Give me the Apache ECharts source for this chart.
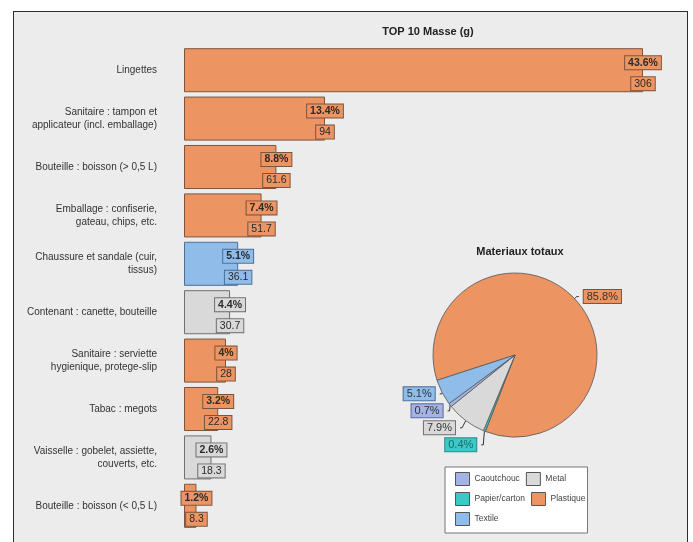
<!DOCTYPE html>
<html>
<head>
<meta charset="utf-8">
<script src="https://cdn.jsdelivr.net/npm/echarts@6/dist/echarts.min.js"></script>
<style>
  html, body { margin: 0; padding: 0; background: #ffffff; }
  #frame { position: absolute; left: 13px; top: 11px; width: 673px; height: 540px;
           border: 1.5px solid #2e2e2e; background: #ececec; }
  #chart { position: absolute; left: 0; top: 0; width: 693px; height: 542px; }
</style>
</head>
<body>
<div id="frame"></div>
<div id="chart"></div>
<script>
// ---- Data ----
const categories = [
  "Lingettes",
  "Sanitaire : tampon et\napplicateur (incl. emballage)",
  "Bouteille : boisson (> 0,5 L)",
  "Emballage : confiserie,\ngateau, chips, etc.",
  "Chaussure et sandale (cuir,\ntissus)",
  "Contenant : canette, bouteille",
  "Sanitaire : serviette\nhygienique, protege-slip",
  "Tabac : megots",
  "Vaisselle : gobelet, assiette,\ncouverts, etc.",
  "Bouteille : boisson (< 0,5 L)"
];
const masses = [306, 94, 61.6, 51.7, 36.1, 30.7, 28, 22.8, 18.3, 8.3];
const percents = [43.6, 13.4, 8.8, 7.4, 5.1, 4.4, 4, 3.2, 2.6, 1.2];
const barMaterials = ["Plastique", "Plastique", "Plastique", "Plastique", "Textile",
                      "Metal", "Plastique", "Plastique", "Metal", "Plastique"];

const pieNames = ["Plastique", "Papier/carton", "Metal", "Caoutchouc", "Textile"];
const pieValues = [85.8, 0.4, 7.9, 0.7, 5.1];
const legendOrder = ["Caoutchouc", "Metal", "Papier/carton", "Plastique", "Textile"];

// ---- Styles ----
const matFill = {
  "Plastique": "#ec9462",
  "Metal": "#d9d9d9",
  "Textile": "#8fbce9",
  "Caoutchouc": "#a3b3e3",
  "Papier/carton": "#3cc8c8"
};
const matEdge = {
  "Plastique": "#7c5540",
  "Metal": "#707070",
  "Textile": "#4f6f96",
  "Caoutchouc": "#5a6a9a",
  "Papier/carton": "#2a8a8a"
};

const barData = masses.map((v, i) => {
  const m = barMaterials[i];
  const box = {
    backgroundColor: matFill[m],
    borderColor: matEdge[m],
    borderWidth: 1,
    padding: [1, 3],
    fontSize: 10.5,
    color: "#2a2a2a",
    fontFamily: "Liberation Sans, Arial, sans-serif",
    lineHeight: 21
  };
  return {
    value: v,
    itemStyle: { color: matFill[m], borderColor: matEdge[m], borderWidth: 1 },
    label: {
      rich: {
        p: Object.assign({}, box, { fontWeight: "bold" }),
        v: Object.assign({}, box, { fontWeight: "normal" })
      }
    }
  };
});

const pieData = pieValues.map((v, i) => {
  const n = pieNames[i];
  return {
    name: n,
    value: v,
    itemStyle: { color: matFill[n], borderColor: "#555", borderWidth: 0.8 },
    label: {
      backgroundColor: matFill[n],
      borderColor: matEdge[n],
      borderWidth: 1,
      color: n === "Papier/carton" ? "#1d6b6b" : "#333"
    }
  };
});

const chart = echarts.init(document.getElementById("chart"), null, { renderer: "canvas" });
chart.setOption({
  backgroundColor: "transparent",
  animation: false,
  textStyle: { fontFamily: "Liberation Sans, Arial, sans-serif" },
  title: [
    { text: "TOP 10 Masse (g)", left: 423, top: 21, textAlign: "center",
      textStyle: { fontSize: 11, fontWeight: "bold", color: "#222" } },
    { text: "Materiaux totaux", left: 515, top: 241, textAlign: "center",
      textStyle: { fontSize: 11, fontWeight: "bold", color: "#222" } }
  ],
  grid: { left: 184, right: 14, top: 46, bottom: 12, containLabel: false },
  xAxis: { type: "value", min: 0, max: 330, show: false },
  yAxis: {
    type: "category", data: categories, inverse: true,
    axisLine: { show: false }, axisTick: { show: false },
    axisLabel: { margin: 27, fontSize: 10, color: "#333", lineHeight: 13, align: "right" }
  },
  legend: {
    data: legendOrder,
    left: 445, top: 467, width: 150,
    orient: "horizontal",
    itemWidth: 14, itemHeight: 13, itemGap: 6,
    padding: [5, 2, 7, 10],
    backgroundColor: "#ffffff",
    borderColor: "#777", borderWidth: 1,
    icon: "rect",
    itemStyle: { borderColor: "#555", borderWidth: 1 },
    textStyle: { fontSize: 8.5, color: "#444", width: 46, overflow: "none" }
  },
  series: [
    {
      type: "bar",
      data: barData,
      barCategoryGap: "9%",
      label: {
        show: true,
        position: ["100%", "50%"],
        align: "center",
        verticalAlign: "middle",
        offset: [0, 3],
        formatter: p => "{p|" + percents[p.dataIndex] + "%}\n{v|" + masses[p.dataIndex] + "}"
      }
    },
    {
      type: "pie",
      center: [515, 355],
      radius: 82,
      startAngle: 198,
      clockwise: true,
      data: pieData,
      label: {
        show: true, position: "outside",
        formatter: p => p.value + "%",
        fontSize: 11, padding: [1, 3]
      },
      labelLine: { show: true, length: 3, length2: 2, lineStyle: { color: "#333", width: 1 } }
    }
  ]
});
</script>
</body>
</html>
